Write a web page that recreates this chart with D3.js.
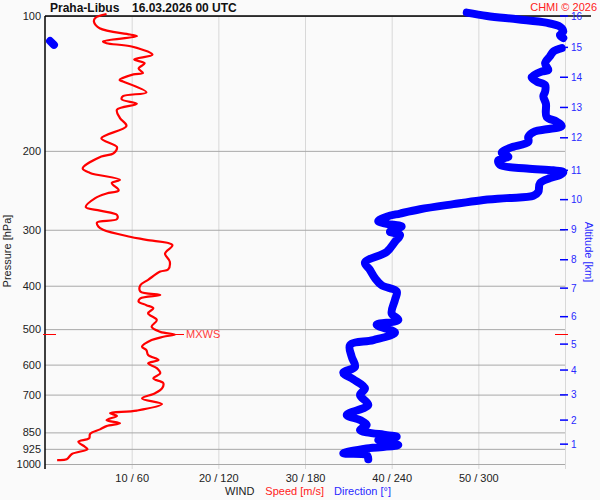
<!DOCTYPE html>
<html>
<head>
<meta charset="utf-8">
<script src="https://cdn.jsdelivr.net/npm/d3@7"></script>
<style>
  body { margin: 0; background: #fafafa; }
  svg { font-family: "Liberation Sans", Arial, sans-serif; display: block; }
</style>
</head>
<body>
<script>
// pressure levels [hPa] and wind speed [m/s]
const speedPres = [99, 101, 103, 106.5, 110, 111, 114, 115, 117, 122, 125, 127.5, 131, 134, 135, 139, 140, 148, 151, 153.5,
  157, 162, 169, 176, 187.5, 196, 202.5, 206, 219, 224, 232, 236, 245, 249, 255, 267, 272, 278, 284, 289,
  295, 300, 311, 316, 324.5, 339, 353.5, 368, 372, 388, 399, 412, 419.5, 427, 434, 442, 449, 461, 477, 494,
  507, 514, 520, 529, 547, 557, 571, 586, 596, 611, 627, 644, 660, 678, 695, 714, 735, 760, 770, 781,
  798, 811, 823, 837, 857, 876, 892, 915, 927, 950, 976, 980];
const speed = [7.1, 5.8, 5.65, 6.3, 9.8, 10.6, 6.7, 7.1, 10.0, 12.4, 10.3, 11.5, 10.8, 11.3, 10.2, 8.6, 9.0, 11.7, 9.0, 8.85,
  10.6, 8.3, 8.65, 9.4, 6.5, 8.3, 7.9, 6.5, 4.35, 5.2, 8.65, 7.7, 8.5, 7.1, 5.8, 4.7, 6.35, 8.3, 8.3, 6.0,
  6.15, 6.7, 9.8, 11.7, 14.7, 13.85, 14.4, 14.2, 13.3, 11.9, 11.0, 11.0, 13.3, 11.0, 10.8, 11.7, 12.5, 11.9, 12.9, 12.3,
  13.3, 15.0, 13.65, 12.3, 11.2, 11.7, 11.9, 13.1, 11.9, 12.9, 13.3, 12.5, 13.65, 13.5, 12.7, 11.2, 13.5, 10.6, 7.5, 8.3,
  7.1, 8.65, 7.1, 6.35, 5.2, 5.1, 3.85, 4.6, 4.9, 3.1, 2.5, 1.4];

// pressure levels [hPa] and wind direction [deg]
const dirPres = [98.3, 100, 101.7, 103.5, 105.6, 108.4, 110.3, 112, 113.7, 116, 118, 120, 123, 127.5, 132, 133, 137, 140, 142.6, 147.6,
  151, 157, 168, 172, 176, 179, 181, 186, 191, 197, 202, 206, 210, 215, 219, 221, 223, 226.5, 230, 236,
  247, 252, 255, 258, 263, 270, 276, 280.5, 287, 291, 295, 303, 308, 319, 336, 355, 369, 385, 399, 412,
  430, 461, 477, 489, 509, 529, 542.5, 576, 607, 625.5, 647, 678, 701.5, 738, 777, 798, 818, 840, 862, 869,
  884, 907, 923, 946.5, 955, 976];
const direction = [292, 306, 327, 347, 356.5, 358.8, 356.5, 358.8, 3.5, 6.2, 357.7, 352, 349.6, 346.2, 348.4, 343.9, 336.9, 340.4, 346.2, 346.2,
  345, 346.8, 347.3, 354.2, 357.7, 347.3, 339.2, 334.6, 334.6, 321.9, 316.2, 320.8, 313.8, 315, 333.5, 351.9, 358.8, 356.5, 349.6, 342.7,
  341.5, 338.1, 319.6, 301.2, 282.7, 259.6, 245.8, 236.6, 230.7, 236.6, 246.9, 238.8, 245.8, 242.3, 236.6, 221.5, 225, 228.5, 233.1, 243.5,
  242.3, 240, 244.6, 229.6, 242.3, 227.3, 211.2, 212.3, 214.6, 206.5, 213.4, 221.5, 218.1, 223.8, 208.9, 218.1, 222.7, 218.1, 236.6, 243.5,
  230.7, 244.6, 222.7, 206.5, 222.7, 223.8];

const pressureTicks = [100, 200, 300, 400, 500, 600, 700, 850, 925, 1000];
const speedTicks = [10, 20, 30, 40, 50, 60];
const speedLabels = ['10 / 60', '20 / 120', '30 / 180', '40 / 240', '50 / 300', ''];
const altitudeKm = [1, 2, 3, 4, 5, 6, 7, 8, 9, 10, 11, 12, 13, 14, 15, 16];
const altitudePres = [903, 798, 701, 617, 540, 469, 405, 350, 300, 257, 221, 187, 160, 137, 117.5, 100];
const maxWind = { pres: 514, speed: 15.0 };

const w = 600, h = 500;
const mLeft = 45, mRight = 565, mTop = 16, mBottom = 464;

const svg = d3.select('body').append('svg')
  .attr('width', w).attr('height', h);

svg.append('rect').attr('width', w).attr('height', h).attr('fill', '#fafafa');

const y = d3.scaleLog().domain([100, 1000]).range([mTop, mBottom]);
const xs = d3.scaleLinear().domain([0, 60]).range([mLeft, mRight]);
const xd = d3.scaleLinear().domain([0, 360]).range([mLeft, mRight]);

// vertical grid (speed / direction)
const xAxis = d3.axisBottom(xs)
  .tickValues(speedTicks)
  .tickSize(-(469 - mTop))
  .tickFormat((d, i) => speedLabels[i]);
const gx = svg.append('g')
  .attr('transform', 'translate(0,469)')
  .call(xAxis);
gx.select('.domain').remove();
gx.selectAll('line').attr('stroke', '#d8d8d8');
gx.selectAll('text').attr('fill', '#222').attr('font-size', 11).attr('dy', 0).attr('y', 13);

// horizontal grid (pressure)
const yAxis = d3.axisLeft(y)
  .tickValues(pressureTicks)
  .tickSize(-(mRight - mLeft))
  .tickFormat(d3.format('d'));
const gy = svg.append('g')
  .attr('transform', 'translate(' + mLeft + ',0)')
  .call(yAxis);
gy.select('.domain').remove();
gy.selectAll('line').attr('stroke', '#a8a8a8');
gy.selectAll('text').attr('fill', '#222').attr('font-size', 11).attr('x', -4);

// frame lines
svg.append('line').attr('x1', mLeft).attr('x2', mLeft).attr('y1', mTop).attr('y2', 469)
  .attr('stroke', '#000').attr('stroke-width', 1.5);
svg.append('line').attr('x1', mLeft).attr('x2', 591).attr('y1', mTop).attr('y2', mTop)
  .attr('stroke', '#000').attr('stroke-width', 1.5);

// altitude axis
const gAlt = svg.append('g');
gAlt.selectAll('line').data(altitudeKm).enter().append('line')
  .attr('x1', 560).attr('x2', 568)
  .attr('y1', (d, i) => y(altitudePres[i])).attr('y2', (d, i) => y(altitudePres[i]))
  .attr('stroke', '#0000ff').attr('stroke-width', 1.5);
gAlt.selectAll('text').data(altitudeKm).enter().append('text')
  .attr('x', 571).attr('y', (d, i) => y(altitudePres[i]))
  .attr('dy', '0.35em').attr('font-size', 10).attr('fill', '#2828ff')
  .text(d => d);

// wind direction, split where it wraps through north
const dirPts = direction.map((d, i) => [d, dirPres[i]]);
const segs = [[dirPts[0]]];
for (let i = 1; i < dirPts.length; i++) {
  if (Math.abs(dirPts[i][0] - dirPts[i - 1][0]) > 180) segs.push([]);
  segs[segs.length - 1].push(dirPts[i]);
}
const dirLine = d3.line().x(d => xd(d[0])).y(d => y(d[1])).curve(d3.curveCatmullRom.alpha(0.5));
svg.selectAll('.dir').data(segs).enter().append('path')
  .attr('class', 'dir')
  .attr('d', dirLine)
  .attr('fill', 'none').attr('stroke', '#0000ff').attr('stroke-width', 8)
  .attr('stroke-linejoin', 'round').attr('stroke-linecap', 'round');

// wind speed
const spdLine = d3.line().x(d => xs(d[0])).y(d => y(d[1])).curve(d3.curveCatmullRom.alpha(0.5));
svg.append('path')
  .datum(speed.map((s, i) => [s, speedPres[i]]))
  .attr('d', spdLine)
  .attr('fill', 'none').attr('stroke', '#ff0000').attr('stroke-width', 2.2)
  .attr('stroke-linejoin', 'round');

// max wind marker
const my = y(maxWind.pres);
svg.append('line').attr('x1', xs(maxWind.speed)).attr('x2', xs(maxWind.speed) + 9).attr('y1', my).attr('y2', my)
  .attr('stroke', '#ff0000');
svg.append('line').attr('x1', 43).attr('x2', 56).attr('y1', my).attr('y2', my).attr('stroke', '#ff0000');
svg.append('line').attr('x1', 555).attr('x2', 568).attr('y1', my).attr('y2', my).attr('stroke', '#ff0000');
svg.append('text').attr('x', xs(maxWind.speed) + 11).attr('y', my).attr('dy', '0.35em')
  .attr('font-size', 11).attr('fill', '#ff3c3c').text('MXWS');

// titles
svg.append('text').attr('x', 50).attr('y', 12).attr('font-size', 12).attr('font-weight', 'bold')
  .attr('fill', '#111').text('Praha-Libus');
svg.append('text').attr('x', 132).attr('y', 12).attr('font-size', 12).attr('font-weight', 'bold')
  .attr('fill', '#111').text('16.03.2026 00 UTC');
svg.append('text').attr('x', 597).attr('y', 11).attr('text-anchor', 'end').attr('font-size', 11)
  .attr('fill', '#ff2020').text('CHMI \u00a9 2026');

svg.append('text').attr('transform', 'translate(11,251) rotate(-90)')
  .attr('text-anchor', 'middle').attr('font-size', 11).attr('fill', '#222').text('Pressure [hPa]');
svg.append('text').attr('transform', 'translate(585,252) rotate(90)')
  .attr('text-anchor', 'middle').attr('font-size', 11).attr('fill', '#2828ff').text('Altitude [km]');

const foot = svg.append('text').attr('x', 225).attr('y', 495).attr('font-size', 11);
foot.append('tspan').attr('fill', '#222').text('WIND');
foot.append('tspan').attr('dx', 11).attr('fill', '#ff2020').text('Speed [m/s]');
foot.append('tspan').attr('dx', 10).attr('fill', '#2828ff').text('Direction [\u00b0]');
</script>
</body>
</html>
